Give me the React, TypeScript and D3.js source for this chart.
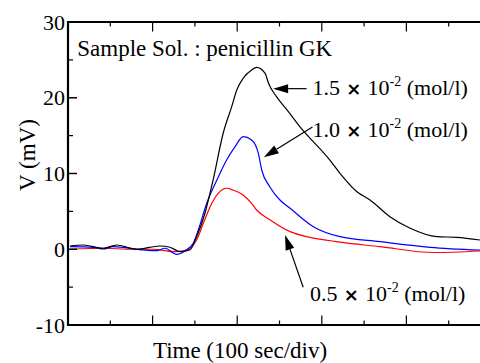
import React from "react";
import * as d3 from "d3";

const W = 480;
const H = 363;

// x in "div" units (100 sec/div), y in mV
const blackX = [0.05, 0.36, 0.83, 1.15, 1.62, 2.17, 2.41, 2.65, 2.88, 3.04, 3.24, 3.43, 3.67, 3.87, 3.99, 4.14, 4.34, 4.46, 4.66, 4.74, 4.93, 5.21, 5.48, 6.19, 6.43, 6.83, 7.14, 7.61, 8.09, 8.72, 9.19, 9.74];
const blackY = [0.43, 0.56, 0.13, 0.56, 0.0, 0.43, 0.26, -0.32, -0.1, 1.66, 4.79, 9.14, 15.35, 18.82, 21.02, 22.57, 23.66, 24.02, 23.23, 21.91, 20.14, 18.16, 16.18, 11.78, 10.03, 7.6, 6.5, 4.3, 2.77, 1.66, 1.58, 1.22];

const blueX = [0.05, 0.6, 0.83, 1.07, 1.78, 2.1, 2.29, 2.57, 2.77, 2.96, 3.08, 3.28, 3.52, 3.75, 3.95, 4.14, 4.34, 4.5, 4.58, 4.77, 5.01, 5.25, 5.8, 6.43, 7.38, 8.56, 9.74];
const blueY = [0.34, 0.26, 0.03, 0.34, -0.1, -0.19, 0.13, -0.67, -0.19, 0.79, 2.54, 6.07, 9.14, 11.78, 13.54, 14.86, 14.42, 12.67, 10.46, 8.26, 6.5, 5.41, 2.98, 1.66, 1.0, 0.26, -0.1];

const redX = [0.05, 0.91, 1.39, 2.01, 2.49, 2.77, 3.04, 3.2, 3.36, 3.55, 3.75, 3.9, 4.14, 4.34, 4.46, 4.78, 5.25, 6.35, 7.38, 8.64, 9.74];
const redY = [0.0, 0.13, 0.0, 0.0, -0.32, -0.19, 1.22, 3.43, 5.62, 7.39, 8.05, 7.82, 7.16, 6.07, 5.18, 3.86, 2.32, 1.0, 0.34, -0.43, -0.23];

const yTickLabels = [30, 20, 10, 0, -10];
const yMinorTicks = [25, 15, 5, -5];
const xTicks = [1, 2, 3, 4, 5, 6, 7, 8, 9];

const seriesLabels = ["1.5", "1.0", "0.5"];
const titleText = "Sample Sol. : penicillin GK";
const xLabel = "Time (100 sec/div)";
const yLabel = "V (mV)";

const serif = { fontFamily: '"Liberation Serif"' };

export default function App() {
  const x = d3.scaleLinear().domain([0, 10]).range([68, 491]);
  const y = d3.scaleLinear().domain([-10, 30]).range([325, 22]);

  const line = d3
    .line<[number, number]>()
    .x((d) => x(d[0]))
    .y((d) => y(d[1]))
    .curve(d3.curveMonotoneX);

  const mk = (xs: number[], ys: number[]) => xs.map((v, i) => [v, ys[i]] as [number, number]);

  const series = [
    { pts: mk(redX, redY), color: "#ff0000" },
    { pts: mk(blueX, blueY), color: "#0000ff" },
    { pts: mk(blackX, blackY), color: "#000000" },
  ];

  const arrows = [
    { from: [5.64, 21.2], to: [4.85, 21.2] },
    { from: [5.78, 16.14], to: [4.63, 12.14] },
    { from: [5.56, -5.02], to: [5.13, 1.88] },
  ];

  const annots = [
    { x: 5.78, y: 20.36, t: seriesLabels[0] },
    { x: 5.78, y: 14.82, t: seriesLabels[1] },
    { x: 5.72, y: -6.77, t: seriesLabels[2] },
  ];

  const arrowHead = (fx: number, fy: number, tx: number, ty: number) => {
    const x1 = x(fx), y1 = y(fy), x2 = x(tx), y2 = y(ty);
    const ang = Math.atan2(y2 - y1, x2 - x1);
    const L = 15, Wd = 4.5;
    const bx = x2 - L * Math.cos(ang), by = y2 - L * Math.sin(ang);
    const px = -Math.sin(ang) * Wd, py = Math.cos(ang) * Wd;
    return {
      line: { x1, y1, x2: bx, y2: by },
      head: `${x2},${y2} ${bx + px},${by + py} ${bx - px},${by - py}`,
    };
  };

  return (
    <svg
      width={W}
      height={H}
      style={{ position: "absolute", left: 0, top: 0, background: "#fff" }}
    >
      <rect x={0} y={0} width={W} height={H} fill="#fff" />
      <defs>
        <clipPath id="plot">
          <rect x={68} y={22} width={W - 68} height={325 - 22} />
        </clipPath>
      </defs>

      {/* curves */}
      <g clipPath="url(#plot)">
        {series.map((s, i) => (
          <path key={i} d={line(s.pts) || ""} fill="none" stroke={s.color} strokeWidth={1.2} />
        ))}
      </g>

      {/* frame */}
      <line x1={68} y1={22} x2={W} y2={22} stroke="#000" strokeWidth={2} />
      <line x1={68} y1={325} x2={W} y2={325} stroke="#000" strokeWidth={2} />
      <line x1={68} y1={21} x2={68} y2={326} stroke="#000" strokeWidth={2.2} />

      {/* x ticks */}
      {xTicks.map((t) => {
        const len = t % 2 === 0 ? 9.5 : 4.5;
        return (
          <g key={t}>
            <line x1={x(t)} x2={x(t)} y1={22} y2={22 + len} stroke="#000" strokeWidth={1.2} />
            <line x1={x(t)} x2={x(t)} y1={325} y2={325 - len} stroke="#000" strokeWidth={1.2} />
          </g>
        );
      })}

      {/* y ticks */}
      {yTickLabels.map((t) => (
        <g key={t}>
          <line x1={68} x2={77} y1={y(t)} y2={y(t)} stroke="#000" strokeWidth={1.5} />
          <text x={65} y={y(t) + 7.5} textAnchor="end" fontSize={22} fill="#000" style={serif}>
            {t}
          </text>
        </g>
      ))}
      {yMinorTicks.map((t) => (
        <line key={t} x1={68} x2={73} y1={y(t)} y2={y(t)} stroke="#000" strokeWidth={1.2} />
      ))}

      {/* axis labels */}
      <text x={240} y={358} textAnchor="middle" fontSize={23} fill="#000" style={serif}>
        {xLabel}
      </text>
      <text transform="translate(35,155) rotate(-90)" textAnchor="middle" fontSize={23} fill="#000" style={serif}>
        {yLabel}
      </text>

      {/* title */}
      <text x={x(0.22)} y={y(25.5)} fontSize={23} fill="#000" style={serif}>
        {titleText}
      </text>

      {/* arrows */}
      {arrows.map((a, i) => {
        const h = arrowHead(a.from[0], a.from[1], a.to[0], a.to[1]);
        return (
          <g key={i}>
            <line x1={h.line.x1} y1={h.line.y1} x2={h.line.x2} y2={h.line.y2} stroke="#000" strokeWidth={1.2} />
            <polygon points={h.head} fill="#000" />
          </g>
        );
      })}

      {/* annotations */}
      {annots.map((a, i) => (
        <text key={i} x={x(a.x)} y={y(a.y)} fontSize={22} fill="#000" style={serif}>
          {a.t}
          <tspan fontWeight="bold" style={{ fontFamily: '"DejaVu Sans"' }} fontSize={18}> × </tspan>
          10
          <tspan dy={-9} fontSize={14}>-2</tspan>
          <tspan dy={9}> (mol/l)</tspan>
        </text>
      ))}
    </svg>
  );
}
